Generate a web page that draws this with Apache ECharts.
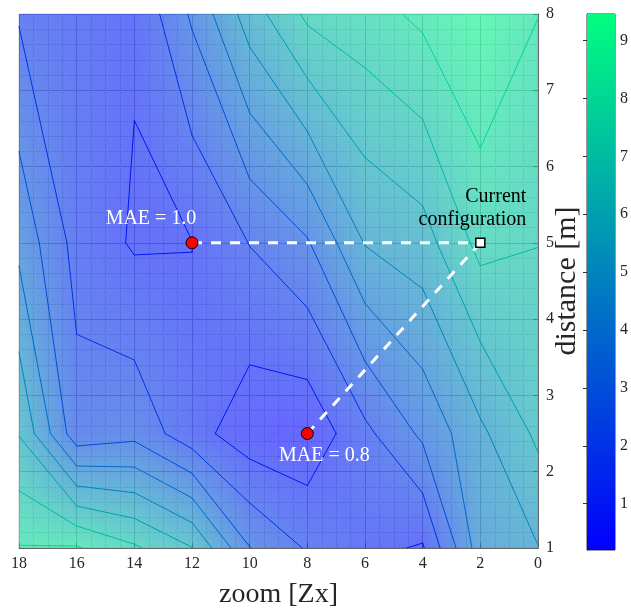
<!DOCTYPE html>
<html>
<head>
    <meta charset="utf-8">
    <title>MAE map</title>
    <script src="https://cdn.jsdelivr.net/npm/echarts@6.0.0/dist/echarts.min.js"></script>
    <style type="text/css">
        html, body { margin: 0; padding: 0; background: #fff; }
        #chart { width: 631px; height: 614px; }
    </style>
</head>
<body>
<div id="chart"></div>
<script>
    // grid of the measured surface (x = zoom, y = distance), z values per row of y
    var zoomValues = [0, 2, 4, 6, 8, 10, 12, 14, 16, 18];
    var distanceValues = [1, 2.5, 5, 8];
    var maeAt1 = [4.97, 4.53, 0.9, 1.26, 1.9, 3.03, 6.03, 7.15, 8.1, 8.05];
    var maeAt2_5 = [6.2, 4.8, 3.2, 1.75, 0.25, 0.42, 1.39, 2.7, 2.38, 5.95];
    var maeAt5 = [7.02, 7.3, 5.57, 5.05, 2.9, 2.03, 0.98, 0.885, 1.65, 3.73];
    var maeAt8 = [8.02, 8.99, 8.22, 7.6, 7.21, 5.5, 3.15, 1.1, 1.5, 1.9];
    var maeRows = [maeAt1, maeAt2_5, maeAt5, maeAt8];

    var contourLevels = [1, 2, 3, 4, 5, 6, 7, 8, 9];
    var colorRange = [0.2, 9.46];
    var colorbarTicks = [1, 2, 3, 4, 5, 6, 7, 8, 9];

    var bestPoints = [
        {name: 'MAE = 1.0', value: [12, 5]},
        {name: 'MAE = 0.8', value: [8, 2.5]}
    ];
    var currentConfig = [2, 5];

    var FONT = 'Liberation Serif';
    var TXT = '#262626';

    // matlab "winter" colormap
    function winter(v) {
        var t = (v - colorRange[0]) / (colorRange[1] - colorRange[0]);
        t = Math.max(0, Math.min(1, t));
        return 'rgb(0,' + Math.round(255 * t) + ',' + Math.round(255 * (1 - 0.5 * t)) + ')';
    }

    // marching squares on the grid -> straight segments per cell
    function contourSegments() {
        var segs = [];
        var nx = zoomValues.length, ny = distanceValues.length;
        contourLevels.forEach(function (L) {
            for (var j = 0; j < ny - 1; j++) {
                for (var i = 0; i < nx - 1; i++) {
                    var c = [
                        [zoomValues[i], distanceValues[j], maeRows[j][i]],
                        [zoomValues[i + 1], distanceValues[j], maeRows[j][i + 1]],
                        [zoomValues[i + 1], distanceValues[j + 1], maeRows[j + 1][i + 1]],
                        [zoomValues[i], distanceValues[j + 1], maeRows[j + 1][i]]
                    ];
                    var pts = [];
                    for (var k = 0; k < 4; k++) {
                        var a = c[k], b = c[(k + 1) % 4];
                        if ((a[2] - L) * (b[2] - L) < 0) {
                            var t = (L - a[2]) / (b[2] - a[2]);
                            pts[k] = [a[0] + t * (b[0] - a[0]), a[1] + t * (b[1] - a[1])];
                        }
                    }
                    var found = pts.filter(function (p) { return p; });
                    if (found.length === 2) {
                        segs.push({coords: found, lineStyle: {color: winter(L)}});
                    } else if (found.length === 4) {
                        var centre = (c[0][2] + c[1][2] + c[2][2] + c[3][2]) / 4;
                        if ((c[0][2] > L) === (centre > L)) {
                            segs.push({coords: [pts[0], pts[1]], lineStyle: {color: winter(L)}});
                            segs.push({coords: [pts[2], pts[3]], lineStyle: {color: winter(L)}});
                        } else {
                            segs.push({coords: [pts[3], pts[0]], lineStyle: {color: winter(L)}});
                            segs.push({coords: [pts[1], pts[2]], lineStyle: {color: winter(L)}});
                        }
                    }
                }
            }
        });
        return segs;
    }

    // interpolated shading of one band of the surface, drawn as 1px columns
    function renderSurfaceRow(params, api) {
        var j = api.value(0);
        var last = zoomValues.length - 1;
        var yTop = Math.round(api.coord([0, distanceValues[j + 1]])[1]);
        var yBot = Math.round(api.coord([0, distanceValues[j]])[1]);
        var pA = api.coord([zoomValues[0], distanceValues[j]])[0];
        var pB = api.coord([zoomValues[last], distanceValues[j]])[0];
        var left = Math.round(Math.min(pA, pB)), right = Math.round(Math.max(pA, pB));
        var row0 = maeRows[j], row1 = maeRows[j + 1];
        var children = [];
        for (var px = left; px < right; px++) {
            var xd = zoomValues[0] + (px + 0.5 - pA) / (pB - pA) * (zoomValues[last] - zoomValues[0]);
            var i = 0;
            while (i < last - 1 && xd > zoomValues[i + 1]) i++;
            var u = (xd - zoomValues[i]) / (zoomValues[i + 1] - zoomValues[i]);
            var zb = row0[i] + u * (row0[i + 1] - row0[i]);
            var zt = row1[i] + u * (row1[i + 1] - row1[i]);
            children.push({
                type: 'rect',
                shape: {x: px, y: yTop, width: 1, height: yBot - yTop},
                style: {
                    fill: new echarts.graphic.LinearGradient(0, 0, 0, 1, [
                        {offset: 0, color: winter(zt)},
                        {offset: 1, color: winter(zb)}
                    ]),
                    opacity: 0.6
                }
            });
        }
        return {type: 'group', children: children};
    }

    function renderColorbar(params, api) {
        var p0 = api.coord([0, colorRange[0]]);
        var p1 = api.coord([1, colorRange[1]]);
        return {
            type: 'rect',
            shape: {x: p0[0], y: p1[1], width: p1[0] - p0[0], height: p0[1] - p1[1]},
            style: {
                fill: new echarts.graphic.LinearGradient(0, 0, 0, 1, [
                    {offset: 0, color: winter(colorRange[1])},
                    {offset: 1, color: winter(colorRange[0])}
                ])
            }
        };
    }

    var chart = echarts.init(document.getElementById('chart'), null, {renderer: 'canvas'});

    var option = {
        backgroundColor: '#fff',
        animation: false,
        grid: [
            {left: 19, top: 14, width: 519, height: 536, show: true, borderColor: '#cfcfcf', borderWidth: 1, backgroundColor: '#fff'},
            {left: 587, top: 14, width: 30, height: 536, show: true, borderColor: '#333', borderWidth: 1, backgroundColor: 'transparent'}
        ],
        xAxis: [
            {
                type: 'value', gridIndex: 0, min: 0, max: 18, interval: 2, inverse: true, position: 'bottom',
                name: 'zoom [Zx]', nameLocation: 'middle', nameGap: 33,
                nameTextStyle: {fontFamily: FONT, fontSize: 28, color: TXT},
                axisLine: {show: true, onZero: false, lineStyle: {color: '#666'}},
                axisTick: {show: true, inside: true, length: 5, lineStyle: {color: '#666'}},
                axisLabel: {fontFamily: FONT, fontSize: 16, color: TXT, margin: 8, showMinLabel: true, showMaxLabel: true},
                splitLine: {show: true, lineStyle: {color: '#bdbdbd', width: 1}},
                minorTick: {show: true, splitNumber: 4, length: 0},
                minorSplitLine: {show: true, lineStyle: {color: '#c6c6c6', type: 'dotted'}}
            },
            {type: 'value', gridIndex: 1, min: 0, max: 1, show: false}
        ],
        yAxis: [
            {
                type: 'value', gridIndex: 0, min: 1, max: 8, interval: 1, position: 'right',
                name: 'distance [m]', nameLocation: 'middle', nameGap: 14, nameRotate: 90,
                nameMoveOverlap: false,
                nameTextStyle: {fontFamily: FONT, fontSize: 30, color: TXT},
                axisLine: {show: true, onZero: false, lineStyle: {color: '#666'}},
                axisTick: {show: true, inside: true, length: 5, lineStyle: {color: '#666'}},
                axisLabel: {fontFamily: FONT, fontSize: 16, color: TXT, margin: 8, showMinLabel: true, showMaxLabel: true},
                splitLine: {show: true, lineStyle: {color: '#bdbdbd', width: 1}},
                minorTick: {show: true, splitNumber: 5, length: 0},
                minorSplitLine: {show: true, lineStyle: {color: '#c6c6c6', type: 'dotted'}}
            },
            {
                type: 'value', gridIndex: 1, min: colorRange[0], max: colorRange[1], position: 'right',
                axisLine: {show: true, lineStyle: {color: '#333'}},
                axisTick: {show: true, inside: true, length: 4, customValues: colorbarTicks, lineStyle: {color: '#333'}},
                axisLabel: {fontFamily: FONT, fontSize: 16, color: TXT, margin: 5, customValues: colorbarTicks},
                splitLine: {show: false}
            }
        ],
        series: [
            {
                type: 'custom', xAxisIndex: 0, yAxisIndex: 0, silent: true, z: 1,
                renderItem: renderSurfaceRow,
                data: [[0, 1], [1, 2], [2, 3]]
            },
            {
                type: 'lines', coordinateSystem: 'cartesian2d', xAxisIndex: 0, yAxisIndex: 0,
                polyline: false, silent: true, z: 3,
                lineStyle: {width: 1, opacity: 1, curveness: 0, cap: 'round'},
                data: contourSegments()
            },
            {
                type: 'line', xAxisIndex: 0, yAxisIndex: 0, z: 4, silent: true, showSymbol: false,
                lineStyle: {color: '#fff', width: 3, type: [10, 9]},
                data: [bestPoints[0].value, currentConfig]
            },
            {
                type: 'line', xAxisIndex: 0, yAxisIndex: 0, z: 4, silent: true, showSymbol: false,
                lineStyle: {color: '#fff', width: 3, type: [10, 9]},
                data: [bestPoints[1].value, currentConfig]
            },
            {
                type: 'scatter', xAxisIndex: 0, yAxisIndex: 0, z: 5, silent: true,
                symbol: 'circle', symbolSize: 12,
                itemStyle: {color: '#ff0000', borderColor: '#000', borderWidth: 1, opacity: 1},
                label: {show: true, position: 'inside', formatter: '{b}', color: '#fff', fontFamily: FONT, fontSize: 20},
                data: [
                    {name: bestPoints[0].name, value: bestPoints[0].value, label: {offset: [-41, -24]}},
                    {name: bestPoints[1].name, value: bestPoints[1].value, label: {offset: [17, 22]}}
                ]
            },
            {
                type: 'scatter', xAxisIndex: 0, yAxisIndex: 0, z: 5, silent: true,
                symbol: 'rect', symbolSize: 9,
                itemStyle: {color: '#fff', borderColor: '#000', borderWidth: 1.5, opacity: 1},
                label: {
                    show: true, position: 'inside', align: 'right', offset: [46, -35],
                    formatter: 'Current\nconfiguration', lineHeight: 23,
                    color: '#000', fontFamily: FONT, fontSize: 20
                },
                data: [{name: 'Current configuration', value: currentConfig}]
            },
            {
                type: 'custom', xAxisIndex: 1, yAxisIndex: 1, silent: true, z: 1,
                renderItem: renderColorbar,
                data: [[0.5, colorRange[0]]]
            }
        ]
    };

    chart.setOption(option);
</script>
</body>
</html>
